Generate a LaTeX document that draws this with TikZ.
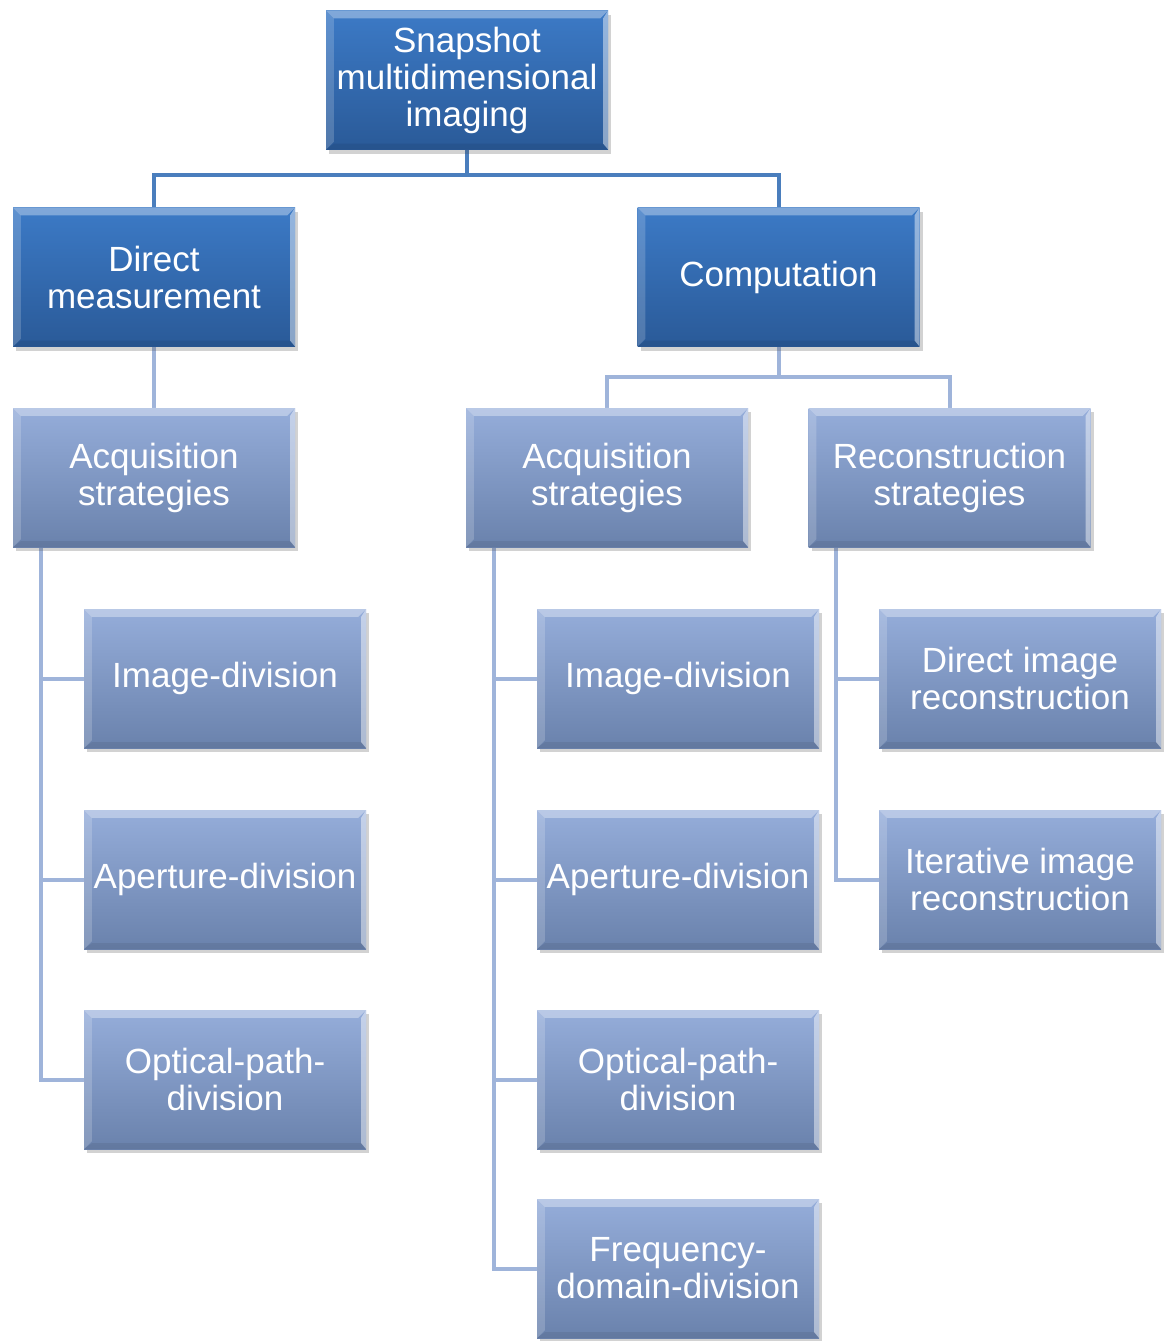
\documentclass[tikz,border=0pt]{standalone}
\usepackage{fontspec}
\setmainfont{Liberation Sans}
\usetikzlibrary{shadows,backgrounds}
\definecolor{darktop}{HTML}{3C7AC6}
\definecolor{darkbot}{HTML}{2A5A98}
\definecolor{lighttop}{HTML}{95ADDA}
\definecolor{lightbot}{HTML}{6A82AC}
\definecolor{linedark}{HTML}{4A7EBD}
\definecolor{linelight}{HTML}{9FB4DA}
\begin{document}
\begin{tikzpicture}[x=1pt,y=-1pt,
  boxbase/.style={rectangle, minimum width=282pt, minimum height=139pt, inner sep=0pt,
    align=center, text=white, font=\fontsize{35}{37}\selectfont,
    drop shadow={shadow xshift=3pt, shadow yshift=-4pt, opacity=0.25, fill=black!70}},
  darkbox/.style={boxbase, top color=darktop, bottom color=darkbot},
  lightbox/.style={boxbase, top color=lighttop, bottom color=lightbot},
  toplink/.style={draw=linedark, line width=4pt},
  sublink/.style={draw=linelight, line width=4pt},
]
\useasboundingbox (0,0) rectangle (1163,1341);

\node[darkbox] (top) at (467,80) {Snapshot\\multidimensional\\imaging};
\node[darkbox] (dm) at (154,277) {Direct\\measurement};
\node[darkbox] (comp) at (778.5,277) {Computation};

\node[lightbox] (aqL) at (154,477.5) {Acquisition\\strategies};
\node[lightbox] (aqR) at (607,477.5) {Acquisition\\strategies};
\node[lightbox] (rec) at (949.5,477.5) {Reconstruction\\strategies};

\node[lightbox] (idL) at (225,678.5) {Image-division};
\node[lightbox] (apL) at (225,879.5) {Aperture-division};
\node[lightbox] (opL) at (225,1079.5) {Optical-path-\\division};

\node[lightbox] (idR) at (678,678.5) {Image-division};
\node[lightbox] (apR) at (678,879.5) {Aperture-division};
\node[lightbox] (opR) at (678,1079.5) {Optical-path-\\division};
\node[lightbox] (fq) at (678,1268.5) {Frequency-\\domain-division};

\node[lightbox] (dir) at (1020,678.5) {Direct image\\reconstruction};
\node[lightbox] (it) at (1020,879.5) {Iterative image\\reconstruction};

% bevels
\foreach \n in {top,dm,comp,aqL,aqR,rec,idL,apL,opL,idR,apR,opR,fq,dir,it}{
  \fill[white,opacity=0.35] (\n.north west) -- (\n.north east)
     -- ([xshift=-8pt,yshift=-8pt]\n.north east) -- ([xshift=8pt,yshift=-8pt]\n.north west) -- cycle;
  \fill[white,opacity=0.18] (\n.north west) -- ([xshift=8pt,yshift=-8pt]\n.north west)
     -- ([xshift=8pt,yshift=8pt]\n.south west) -- (\n.south west) -- cycle;
  \fill[white,opacity=0.45] (\n.north east) -- ([xshift=-5pt,yshift=-8pt]\n.north east)
     -- ([xshift=-5pt,yshift=6pt]\n.south east) -- (\n.south east) -- cycle;
  \fill[black,opacity=0.07] (\n.south west) -- ([xshift=8pt,yshift=6pt]\n.south west)
     -- ([xshift=-5pt,yshift=6pt]\n.south east) -- (\n.south east) -- cycle;
}

\begin{scope}[on background layer]
\fill[white] (0,0) rectangle (1163,1341);
\draw[toplink] (top.south) -- ++(0,25) -| (dm.north);
\draw[toplink] (top.south) -- ++(0,25) -| (comp.north);
\draw[sublink] (dm.south) -- (aqL.north);
\draw[sublink] (comp.south) -- ++(0,30) -| (aqR.north);
\draw[sublink] (comp.south) -- ++(0,30) -| (rec.north);

\draw[sublink] ([xshift=28pt]aqL.south west) |- (idL.west);
\draw[sublink] ([xshift=28pt]aqL.south west) |- (apL.west);
\draw[sublink] ([xshift=28pt]aqL.south west) |- (opL.west);

\draw[sublink] ([xshift=28pt]aqR.south west) |- (idR.west);
\draw[sublink] ([xshift=28pt]aqR.south west) |- (apR.west);
\draw[sublink] ([xshift=28pt]aqR.south west) |- (opR.west);
\draw[sublink] ([xshift=28pt]aqR.south west) |- (fq.west);

\draw[sublink] ([xshift=28pt]rec.south west) |- (dir.west);
\draw[sublink] ([xshift=28pt]rec.south west) |- (it.west);
\end{scope}
\end{tikzpicture}
\end{document}
